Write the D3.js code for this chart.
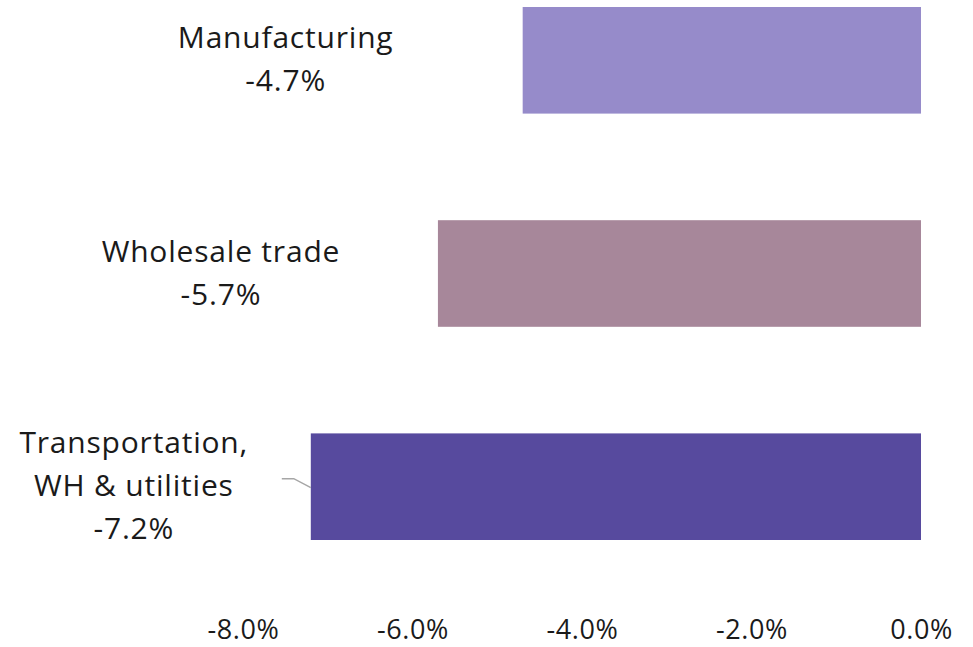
<!DOCTYPE html>
<html>
<head>
<meta charset="utf-8">
<script src="https://cdn.jsdelivr.net/npm/d3@7"></script>
<style>
  body { margin: 0; background: #fff; }
  text { font-family: "Open Sans", sans-serif; fill: #1a1a1a; }
</style>
</head>
<body>
<script>
var categories = ["Manufacturing", "Wholesale trade", "Transportation,\nWH & utilities"];
var values = [-4.7, -5.7, -7.2];
var colors = ["#968bca", "#a7879a", "#574a9e"];
var tickValues = [-8, -6, -4, -2, 0];

var width = 973, height = 647;

var svg = d3.select("body").append("svg")
  .attr("width", width)
  .attr("height", height);

var x = d3.scaleLinear()
  .domain([-8, 0])
  .range([243, 921]);

var y = d3.scaleBand()
  .domain(categories)
  .range([7, 540])
  .paddingInner(0.5)
  .paddingOuter(0);

// bars
svg.selectAll("rect.bar")
  .data(values)
  .enter().append("rect")
  .attr("class", "bar")
  .attr("x", function (d) { return x(d); })
  .attr("y", function (d, i) { return y(categories[i]); })
  .attr("width", function (d) { return x(0) - x(d); })
  .attr("height", y.bandwidth())
  .attr("fill", function (d, i) { return colors[i]; });

// labels (gap from bar end to label centre)
var labelGap = [237, 217, 177];
var lineH = 43;

values.forEach(function (v, i) {
  var lines = categories[i].split("\n").concat([v.toFixed(1) + "%"]);
  var cy = y(categories[i]) + y.bandwidth() / 2;
  var cx = x(v) - labelGap[i];
  var top = cy - lines.length * lineH / 2 + 31;
  var t = svg.append("text")
    .attr("text-anchor", "middle")
    .style("font-size", "30px")
    .style("letter-spacing", "0.8px");
  lines.forEach(function (l, j) {
    t.append("tspan")
      .attr("x", cx)
      .attr("y", top + j * lineH)
      .text(l);
  });
});

// leader line for the transport label
var ty = y(categories[2]) + y.bandwidth() / 2;
svg.append("path")
  .attr("d", "M" + (x(values[2]) - 29) + "," + (ty - 8) +
             "L" + (x(values[2]) - 17) + "," + (ty - 8) +
             "L" + x(values[2]) + "," + (ty + 1))
  .attr("fill", "none")
  .attr("stroke", "#a6a6a6")
  .attr("stroke-width", 1.5);

// x axis
var axis = svg.append("g")
  .attr("transform", "translate(0,639)")
  .call(d3.axisBottom(x).tickValues(tickValues).tickSize(0).tickPadding(0)
    .tickFormat(function (d) { return d.toFixed(1) + "%"; }));
axis.select(".domain").remove();
axis.selectAll("text")
  .attr("dy", 0)
  .style("font-size", "27px")
  .style("letter-spacing", "0.6px")
  .style("font-family", "'Open Sans', sans-serif")
  .attr("fill", "#1a1a1a");
</script>
</body>
</html>
